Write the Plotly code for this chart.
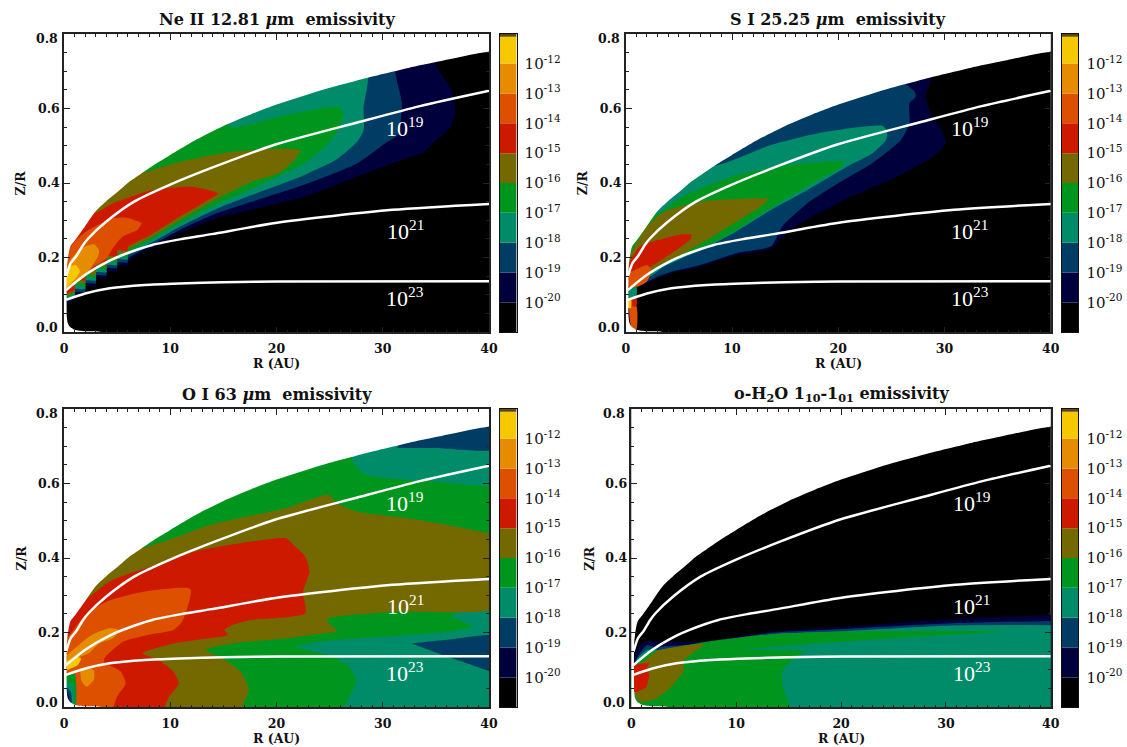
import plotly.graph_objects as go

W, H = 1127, 747
FONT = "DejaVu Serif"
BLACK, NAVY, BLUE, TEAL, GREEN, OLIVE = "#000000", "#00003C", "#003C64", "#008C69", "#00961E", "#736900"
RED, ORANGE_RED, ORANGE, YELLOW = "#CD1900", "#DC5000", "#E68C00", "#F5C800"

# disk outline
DISK_TOP = [(40,.752),(37.5,.739),(35,.724),(32.5,.709),(30,.692),(27.5,.674),(25,.655),(22.5,.633),(20,.61),
            (17.5,.583),(15,.553),(12.5,.517),(10,.475),(8.5,.449),(7,.42),(6,.4),(5,.375),(4,.352),(3,.325),(2,.285),(1,.245),(.6,.23),
            (.4,.205),(.27,.17)]
DISK_BOTTOM = [(.27,.04),(.35,.025),(.55,.015),(1,.007),(2,.003),(3.5,0)]

# column-density contours
N19 = [(.2,.149),(.63,.185),(1.13,.203),(1.8,.234),(2.3,.252),(3.96,.296),(6.6,.35),(9.94,.395),(14.3,.445),
       (19.9,.503),(27.6,.562),(33.5,.606),(40,.647)]
N21 = [(.2,.113),(2,.154),(4.3,.192),(5.5,.207),(8.3,.234),(11.1,.25),(13.9,.263),(19.9,.293),(30.9,.328),(40,.344)]
N23 = [(.2,.087),(2,.104),(4.3,.118),(7.6,.127),(10.9,.131),(15,.134),(20,.136),(40,.137)]

# Ne II contours
NE_NAVY = [(35,.8),(35,.716),(36.5,.649),(36.8,.596),(36.4,.551),(35,.515),(33.9,.484),(30.9,.453),(27.6,.417),(22.6,.363),(17.6,.328),(14.3,.305),(10.9,.265),(8.3,.227),(6,.19),(6,.178),(5,.178),(5,.163),(4,.163),(4,.145),(3,.145),(3,.123),(2,.123),(2,.1),(1,.1),(1,.088),(0,.08),(0,.8)]
NE_BLUE = [(31,.8),(31.2,.692),(31.8,.613),(31.4,.529),(30.2,.506),(27.6,.453),(22.6,.395),(17.6,.349),(14.3,.318),(10.9,.274),(8.3,.234),(6,.197),(6,.187),(5,.187),(5,.172),(4,.172),(4,.153),(3,.153),(3,.131),(2,.131),(2,.108),(1,.108),(1,.093),(0,.085),(0,.8)]
NE_TEAL = [(28.6,.8),(28.6,.671),(28.2,.604),(28.2,.542),(27.6,.511),(25.6,.462),(22.6,.421),(17.6,.367),(14.3,.33),(10.9,.283),(8.3,.241),(6,.205),(6,.195),(5,.195),(5,.18),(4,.18),(4,.161),(3,.161),(3,.139),(2,.139),(2,.116),(1,.116),(1,.098),(0,.09),(0,.8)]
NE_GREEN = [(14.3,.62),(15.6,.551),(20.9,.582),(25.9,.603),(26.3,.582),(25.7,.538),(24.9,.506),(22.6,.453),(17.6,.384),(14.3,.342),(10.9,.292),(8.3,.249),(6,.212),(6,.203),(5,.203),(5,.188),(4,.188),(4,.169),(3,.169),(3,.147),(2,.147),(2,.124),(1,.124),(1,.103),(0,.095),(0,.62)]
NE_OLIVE = [(5.6,.46),(6.8,.426),(10.9,.457),(15.9,.484),(22.2,.488),(21.7,.462),(20.2,.426),(17.6,.403),(14.3,.356),(10.9,.301),(8.3,.256),(6,.22),(6,.211),(5,.211),(5,.196),(4,.196),(4,.177),(3,.177),(3,.155),(2,.155),(2,.132),(1,.132),(1,.108),(0,.1),(0,.46)]
NE_RED = [(2.6,.36),(2.7,.318),(4.6,.345),(8.3,.381),(12,.39),(14.5,.372),(13.3,.35),(10.9,.31),(8.3,.263),(6,.228),(6,.219),(5,.219),(5,.204),(4,.204),(4,.187),(3,.187),(3,.165),(2,.165),(2,.14),(1,.14),(1,.113),(0,.105),(0,.36)]
NE_OR = [(0,.2),(1,.243),(2.3,.274),(4.6,.305),(5.9,.307),(7.3,.292),(6.9,.274),(5.5,.256),(4.6,.225),(4,.198),(3,.18),(2,.155),(1,.13),(0,.118)]
NE_ORANGE = [(.2,.167),(.6,.194),(1.6,.225),(2.8,.236),(3.3,.22),(3.2,.203),(2.6,.176),(2,.149),(1,.131),(.2,.118)]
NE_YELLOW = [(.15,.145),(.6,.176),(1.1,.18),(1.5,.163),(1.1,.145),(.3,.122)]

# S I contours
S_NAVY = [(28.7,.8),(28.7,.676),(28.2,.631),(28.7,.587),(29.7,.542),(30.1,.506),(28.9,.471),(25.5,.417),(20.5,.354),(15.4,.274),(13.7,.225),(10.4,.207),(7,.176),(4.3,.158),(3,.145),(2,.131),(1,.122),(0,.118),(0,.8)]
S_BLUE = [(26,.8),(26,.676),(27.2,.645),(27.3,.631),(26.7,.613),(26.7,.56),(25.9,.515),(23.2,.453),(20.5,.408),(17.1,.346),(14.7,.283),(13.7,.231),(10.4,.212),(7,.18),(4.3,.162),(3,.149),(2,.136),(1,.127),(.2,.113),(0,.113),(0,.8)]
S_TEAL = [(7,.506),(8,.446),(13.7,.502),(18.8,.537),(24.2,.553),(24.6,.538),(24.5,.515),(23.2,.479),(21.1,.448),(17.1,.381),(13.7,.328),(10.4,.27),(7.7,.229),(5.3,.198),(3.6,.176),(3,.163),(2,.145),(1,.133),(.2,.113),(0,.113),(0,.506)]
S_GREEN = [(1.95,.33),(3.1,.319),(5.3,.363),(10.4,.421),(15.4,.448),(20.6,.457),(20.1,.439),(18.1,.408),(15.4,.363),(12.4,.31),(9.7,.261),(7.7,.234),(5.3,.203),(3.6,.18),(3,.169),(2,.151),(1,.138),(.2,.118),(0,.118),(0,.33)]
S_OLIVE = [(.3,.203),(2,.283),(3.6,.323),(7,.35),(10.4,.357),(13.4,.357),(12.7,.337),(10.4,.296),(8.4,.261),(6.3,.225),(4.6,.198),(3.6,.185),(3,.176),(2,.156),(1,.14),(.2,.122),(0,.122),(0,.203)]
S_RED = [(.3,.185),(1.3,.229),(3,.247),(5,.261),(6.2,.261),(6,.247),(5,.225),(3.6,.198),(2.4,.176),(1.6,.149),(1,.122),(.2,.113)]
S_OR = [(.1,.158),(.9,.167),(2,.18),(2.4,.167),(2,.136),(1,.121),(.2,.122)]
S_COL_TEAL = [(.2,.113),(1,.122),(1,.098),(.2,.09)]
S_COL_RED = [(.2,.092),(1,.092),(1,.07),(.2,.07)]
S_COL_OR = [(.3,.07),(1,.07),(1,.008),(.55,.012),(.35,.04)]
S_COL_YELLOW = [(.2,.09),(.5,.09),(.5,.065),(.2,.065)]

# O I contours (painted over a green base)
O_BASE = [(-1,-.03),(41,-.03),(41,.85),(-1,.85)]
O_TEAL_TOP = [(26.9,.85),(41,.85),(41,.603),(34.2,.606),(29.2,.618),(28.1,.627),(27.1,.6625)]
O_BLUE_TOP = [(31.4,.695),(35,.695),(41,.695),(41,.85),(31.4,.85)]
O_TEAL_LOW = [(21.7,.1625),(24.2,.176),(27.6,.185),(32.5,.194),(36.4,.204),(38.4,.216),(36.4,.246),(41,.26),(41,-.03),(26,-.03),(26.7,.02),(27.5,.069),(26.7,.113),(24.9,.14)]
O_BLUE_LOW = [(32.7,.171),(35.8,.18),(41,.19),(41,.095),(37.5,.122),(35.2,.145)]
O_OLIVE = [(5.6,.46),(6.8,.426),(14.3,.493),(20.9,.533),(24.9,.569),(25.7,.546),(27.6,.524),(32.5,.506),(36.9,.484),(41,.45),(41,.27),(30.9,.256),(24.8,.237),(24.9,.225),(25.7,.204),(24.2,.198),(20.9,.185),(15.9,.171),(13.3,.154),(14.9,.131),(16.6,.096),(17.4,.046),(16.9,.011),(16.2,-.03),(-1,-.03),(-1,.46)]
O_RED = [(-1,.3),(.5,.23),(1.1,.261),(4.3,.337),(8.6,.381),(12.3,.417),(17.6,.444),(20.9,.453),(21.6,.435),(22.7,.404),(23.1,.363),(22.5,.31),(22.7,.252),(17.6,.234),(15.9,.221),(15.1,.207),(15.4,.194),(13.6,.185),(10.3,.171),(7.4,.145),(8.9,.127),(10.3,.096),(10.8,.064),(9.9,.029),(8.8,-.03),(-1,-.03)]
O_OR = [(.13,.176),(2,.247),(4,.283),(7.6,.31),(11.9,.317),(11.6,.265),(11.1,.229),(10.3,.207),(7.9,.194),(5.6,.176),(3.8,.131),(3.8,.121),(5.3,.097),(5.8,.064),(5,.029),(4.1,-.03),(1,-.03),(1,.09),(.1,.09)]
O_ORANGE = [(.3,.14),(2.6,.194),(4.3,.212),(5.2,.207),(4.6,.185),(3.3,.171),(2.3,.144),(1.5,.135),(.3,.109)]
O_ORANGE2 = [(1.5,.104),(2.8,.1),(2.8,.073),(2.1,.055),(1.6,.073)]
O_YELLOW = [(.2,.122),(1.1,.136),(1.6,.131),(1.3,.113),(.3,.1)]
O_COL_GREEN = [(.2,.09),(1,.09),(1,-.01),(.2,-.01)]
O_COL_TEAL = [(.2,.065),(.85,.06),(.85,-.01),(.2,-.01)]
O_COL_BLUE = [(.2,.055),(.65,.04),(.7,-.01),(.2,-.01)]
O_COL_NAVY = [(.2,.045),(.45,.03),(.45,-.01),(.2,-.01)]

# o-H2O contours
W_NAVY = [(41,.248),(30.5,.236),(20.2,.216),(13.4,.204),(6.6,.176),(2.2,.176),(1.25,.177),(.4,.149),(.2,.113),(-1,-.03),(41,-.03)]
W_BLUE = [(41,.232),(30.5,.225),(20.2,.21),(13.4,.2),(6.6,.171),(2.2,.1625),(1.5,.167),(.8,.145),(.2,.113),(-1,-.03),(41,-.03)]
W_TEAL = [(41,.22),(30.5,.219),(20.2,.204),(13.4,.196),(6.6,.169),(2.8,.153),(1.5,.154),(.6,.131),(.2,.109),(-1,-.03),(41,-.03)]
W_GREEN = [(2.8,.153),(7.3,.176),(13.4,.196),(20.2,.203),(27.1,.204),(35.6,.203),(27.1,.189),(20.2,.176),(10.7,.154),(16.5,.151),(15.5,.131),(14.4,.096),(14.4,.06),(15.2,-.03),(-1,-.03),(.2,.109),(1.5,.145)]
W_OLIVE = [(2.5,.153),(6.9,.169),(5,.126),(5,.099),(3.75,.054),(2.3,.023),(.9,.014),(.3,.032),(.15,.072),(.5,.108)]
W_RED = [(.15,.112),(1.7,.119),(1.4,.099),(1.7,.09),(1.4,.054),(.9,.046),(.3,.041),(.15,.072)]

TITLES = ["Ne II 12.81 <i>μ</i>m  emissivity", "S I 25.25 <i>μ</i>m  emissivity",
          "O I 63 <i>μ</i>m  emissivity", "o-H<sub>2</sub>O 1<sub>10</sub>-1<sub>01</sub> emissivity"]
BANDS = [BLACK, NAVY, BLUE, TEAL, GREEN, OLIVE, RED, ORANGE_RED, ORANGE, YELLOW, "#5A4A10"]
BAND_EDGES = [-21, -20, -19, -18, -17, -16, -15, -14, -13, -12, -11.1, -11]
BAR_TICKS = [-20, -19, -18, -17, -16, -15, -14, -13, -12]
BAR_LABELS = [f"10<sup>{t}</sup>" for t in BAR_TICKS]
N_LABELS = ["10<sup>19</sup>", "10<sup>21</sup>", "10<sup>23</sup>"]
N_LABEL_POS = [(32, .55), (32, .274), (32, .095)]

PANEL_LAYERS = [
    [(NE_NAVY, NAVY), (NE_BLUE, BLUE), (NE_TEAL, TEAL), (NE_GREEN, GREEN), (NE_OLIVE, OLIVE), (NE_RED, RED),
     (NE_OR, ORANGE_RED), (NE_ORANGE, ORANGE), (NE_YELLOW, YELLOW)],
    [(S_NAVY, NAVY), (S_BLUE, BLUE), (S_TEAL, TEAL), (S_GREEN, GREEN), (S_OLIVE, OLIVE), (S_RED, RED), (S_OR, ORANGE_RED),
     (S_COL_TEAL, TEAL), (S_COL_OR, ORANGE_RED), (S_COL_RED, RED), (S_COL_YELLOW, YELLOW)],
    [(O_BASE, GREEN), (O_TEAL_TOP, TEAL), (O_BLUE_TOP, BLUE), (O_TEAL_LOW, TEAL), (O_BLUE_LOW, BLUE),
     (O_OLIVE, OLIVE), (O_RED, RED), (O_OR, ORANGE_RED), (O_ORANGE, ORANGE), (O_ORANGE2, ORANGE), (O_YELLOW, YELLOW),
     (O_COL_GREEN, GREEN), (O_COL_TEAL, TEAL), (O_COL_BLUE, BLUE), (O_COL_NAVY, NAVY)],
    [(W_NAVY, NAVY), (W_BLUE, BLUE), (W_TEAL, TEAL), (W_GREEN, GREEN), (W_OLIVE, OLIVE), (W_RED, RED)],
]

# pixel frames: left, right, top, bottom, bar left, bar right, label shift
FRAMES = [(60.7, 490.7, 33.7, 332.3, 501.4, 518.6, 1),
          (629, 1059, 33.7, 332.3, 1070, 1087, 4),
          (60.7, 490.7, 408.7, 707.3, 501.4, 518.6, 1),
          (634.7, 1059, 408.7, 707.3, 1070, 1087, 5)]

fig = go.Figure()
annotations = []
layout = {}
TICKFONT = dict(family=FONT, size=12.5, color="#111", weight="bold")


def poly(points, color, ax, smooth=True):
    xs = [p[0] for p in points]
    ys = [p[1] for p in points]
    line = dict(width=0, shape="spline", smoothing=.6) if smooth else dict(width=0)
    fig.add_trace(go.Scatter(x=xs, y=ys, mode="lines", fill="toself", fillcolor=color,
                             line=line, hoverinfo="skip", showlegend=False,
                             xaxis="x" + ax[0], yaxis="y" + ax[1]))


for i, (frame, layers) in enumerate(zip(FRAMES, PANEL_LAYERS)):
    L, R, T, B, BL, BR, SHIFT = frame
    n = i * 2 + 1
    m = i * 2 + 2
    a = ("" if n == 1 else str(n), "" if n == 1 else str(n))
    c = (str(m), str(m))
    poly([(-1, -.03), (41, -.03), (41, .85), (-1, .85)], BLACK, a, smooth=False)
    for pts, col in layers:
        poly(pts, col, a)
    poly([(-2, 1), (42, 1), (42, .76)] + DISK_TOP + DISK_BOTTOM + [(3.5, -.03), (-2, -.03)], "#FFFFFF", a)
    for curve in (N19, N21, N23):
        fig.add_trace(go.Scatter(x=[p[0] for p in curve], y=[p[1] for p in curve], mode="lines",
                                 line=dict(color="#FFFFFF", width=2.5, shape="spline", smoothing=.7),
                                 hoverinfo="skip", showlegend=False,
                                 xaxis="x" + a[0], yaxis="y" + a[1]))
    # color bar
    fig.add_trace(go.Bar(x=[0] * len(BANDS),
                         y=[BAND_EDGES[k + 1] - BAND_EDGES[k] for k in range(len(BANDS))],
                         base=BAND_EDGES[:-1], width=1, marker=dict(color=BANDS, line=dict(width=0)),
                         hoverinfo="skip", showlegend=False, xaxis="x" + c[0], yaxis="y" + c[1]))
    xname, yname = "xaxis" + a[0], "yaxis" + a[1]
    layout[xname] = dict(domain=[L / W, R / W], range=[0, 40], anchor="y" + a[1], tickvals=[0, 10, 20, 30, 40],
                         ticks="inside", ticklen=6, tickwidth=1.3, tickcolor="#222", showgrid=False, zeroline=False,
                         showline=True, mirror="ticks", linecolor="#222", linewidth=1.6, tickfont=TICKFONT,
                         minor=dict(ticks="inside", ticklen=3, tickwidth=1, tickcolor="#222", dtick=1, showgrid=False),
                         ticklabelstandoff=4)
    layout[yname] = dict(domain=[1 - B / H, 1 - T / H], range=[0, .8], anchor="x" + a[0],
                         tickvals=[0, .2, .4, .6, .8], ticktext=["", "0.2", "0.4", "0.6", ""],
                         ticks="inside", ticklen=6, tickwidth=1.3, tickcolor="#222", showgrid=False, zeroline=False,
                         showline=True, mirror="ticks", linecolor="#222", linewidth=1.6, tickfont=TICKFONT,
                         minor=dict(ticks="inside", ticklen=3, tickwidth=1, tickcolor="#222", dtick=.05, showgrid=False))
    layout["xaxis" + c[0]] = dict(domain=[BL / W, BR / W], range=[-.5, .5], anchor="y" + c[1], showticklabels=False,
                                  ticks="", showgrid=False, zeroline=False, showline=True, mirror=True,
                                  linecolor="#111", linewidth=1)
    layout["yaxis" + c[1]] = dict(domain=[1 - B / H, 1 - T / H], range=[-21, -11], anchor="x" + c[0], side="right",
                                  tickvals=BAR_TICKS, ticktext=BAR_LABELS, ticks="", showgrid=False, zeroline=False,
                                  showline=True, mirror=True, linecolor="#111", linewidth=1, ticklabelstandoff=4,
                                  tickfont=dict(family=FONT, size=15, color="#111"))
    xref, yref = "x" + a[0], "y" + a[1]
    for txt, (rx, rz) in zip(N_LABELS, N_LABEL_POS):
        annotations.append(dict(x=rx, y=rz, xref=xref, yref=yref, text=txt, showarrow=False, xshift=SHIFT,
                                font=dict(family="Liberation Serif", size=22, color="#FFFFFF")))
    for val, shift in ((0, 5), (.8, -5)):
        annotations.append(dict(x=0, y=val, xref=xref, yref=yref, text=f"{val:.1f}", showarrow=False, xanchor="right",
                                xshift=-4, yshift=shift, font=TICKFONT))
    annotations.append(dict(x=(L + R) / 2 / W, y=1 - (T - 14) / H, xref="paper", yref="paper", text=TITLES[i], showarrow=False,
                            xanchor="center", yanchor="middle",
                            font=dict(family=FONT, size=16, color="#111", weight="bold")))
    annotations.append(dict(x=(L + R) / 2 / W, y=1 - (B + 31) / H, xref="paper", yref="paper", text="R (AU)",
                            xanchor="center", yanchor="middle",
                            showarrow=False, font=dict(family=FONT, size=12.5, color="#111", weight="bold")))
    annotations.append(dict(x=(L - 43) / W, y=1 - (T + B) / 2 / H, xref="paper", yref="paper", text="Z/R", textangle=-90,
                            xanchor="center", yanchor="middle",
                            showarrow=False, font=dict(family=FONT, size=12.5, color="#111", weight="bold")))

fig.update_layout(width=W, height=H, autosize=False, margin=dict(l=0, r=0, t=0, b=0), paper_bgcolor="white",
                  plot_bgcolor="white", showlegend=False, annotations=annotations, **layout)
fig.write_html("out.html", post_script="document.body.style.margin='0';", config={"displayModeBar": False})
